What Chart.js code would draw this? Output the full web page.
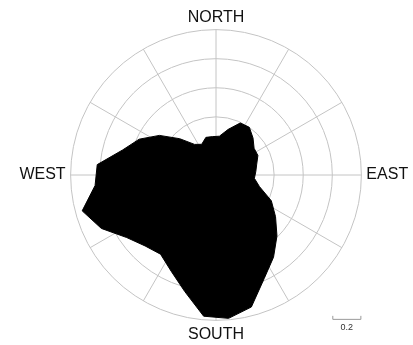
<!DOCTYPE html>
<html>
<head>
<meta charset="utf-8">
<script src="https://cdn.jsdelivr.net/npm/chart.js@4"></script>
<style>
  html, body { margin: 0; padding: 0; background: #fff; }
  #wrap { width: 413px; height: 345px; }
</style>
</head>
<body>
<div id="wrap"><canvas id="roseCanvas" width="413" height="345"></canvas></div>
<script>
// directions every 5 degrees clockwise from north; sectors are centred on 5, 15, 25 ... 355
var bearings = [];
for (var b = 0; b < 360; b += 5) bearings.push(b);
var cardinalNames = { 0: 'NORTH', 90: 'EAST', 180: 'SOUTH', 270: 'WEST' };
var sectorCentres = [5, 15, 25, 35, 45, 55, 65, 75, 85, 95, 105, 115,
                     125, 135, 145, 155, 165, 175, 185, 195, 205, 215, 225, 235,
                     245, 255, 265, 275, 285, 295, 305, 315, 325, 335, 345, 355];
var sectorValues = [0.268, 0.325, 0.395, 0.40, 0.36, 0.32, 0.318, 0.29, 0.275, 0.265, 0.31, 0.42,
                    0.50, 0.593, 0.69, 0.785, 0.94, 0.99, 0.975, 0.83, 0.73, 0.665, 0.69, 0.75,
                    0.87, 0.953, 0.835, 0.82, 0.665, 0.583, 0.475, 0.353, 0.257, 0.233, 0.268, 0.265];
var ringStep = 0.2;
var ringMax = 1.0;
var scaleBarLabel = '0.2';

var labels = bearings.map(function (d) { return cardinalNames[d] || ''; });
// put each sector value on its bearing, leave the other slots empty
var roseData = bearings.map(function (d) {
    var i = sectorCentres.indexOf(d);
    return i >= 0 ? sectorValues[i] : null;
});

// little scale bar in the lower right corner
var scaleBar = {
    id: 'scaleBar',
    afterDraw: function (chart) {
        var r = chart.scales.r;
        var c = chart.ctx;
        var right = r.xCenter + r.drawingArea;
        var left = right - r.getDistanceFromCenterForValue(ringStep);
        var y = r.yCenter + r.drawingArea - 1.5;
        c.save();
        c.strokeStyle = '#9a9a9a';
        c.lineWidth = 1;
        c.beginPath();
        c.moveTo(left + 0.5, y - 3);
        c.lineTo(left + 0.5, y + 0.5);
        c.lineTo(right - 0.5, y + 0.5);
        c.lineTo(right - 0.5, y - 3);
        c.stroke();
        c.fillStyle = '#333';
        c.font = '9px "Liberation Sans", Arial, sans-serif';
        c.textAlign = 'center';
        c.textBaseline = 'top';
        c.fillText(scaleBarLabel, (left + right) / 2, y + 4);
        c.restore();
    }
};

var ctx = document.getElementById('roseCanvas').getContext('2d');

var roseChart = new Chart(ctx, {
    type: 'radar',
    data: {
        labels: labels,
        datasets: [{
            data: roseData,
            backgroundColor: '#000',
            borderColor: '#000',
            borderWidth: 1,
            fill: true,
            spanGaps: true,
            pointRadius: 0,
            tension: 0
        }]
    },
    options: {
        responsive: false,
        animation: false,
        layout: { padding: { left: 16, top: 6, bottom: 0 } },
        plugins: {
            legend: { display: false },
            tooltip: { enabled: false }
        },
        scales: {
            r: {
                min: 0,
                max: ringMax,
                ticks: { stepSize: ringStep, display: false },
                grid: { circular: true, color: '#c4c4c4', lineWidth: 1 },
                angleLines: {
                    color: function (c) { return c.index % 6 === 0 ? '#c4c4c4' : 'rgba(0,0,0,0)'; },
                    lineWidth: 1
                },
                pointLabels: {
                    padding: function (c) { return c.index === 0 ? 2 : 5; },
                    color: '#111',
                    font: { family: '"Liberation Sans", Arial, sans-serif', size: 16 }
                }
            }
        }
    },
    plugins: [scaleBar]
});
</script>
</body>
</html>
